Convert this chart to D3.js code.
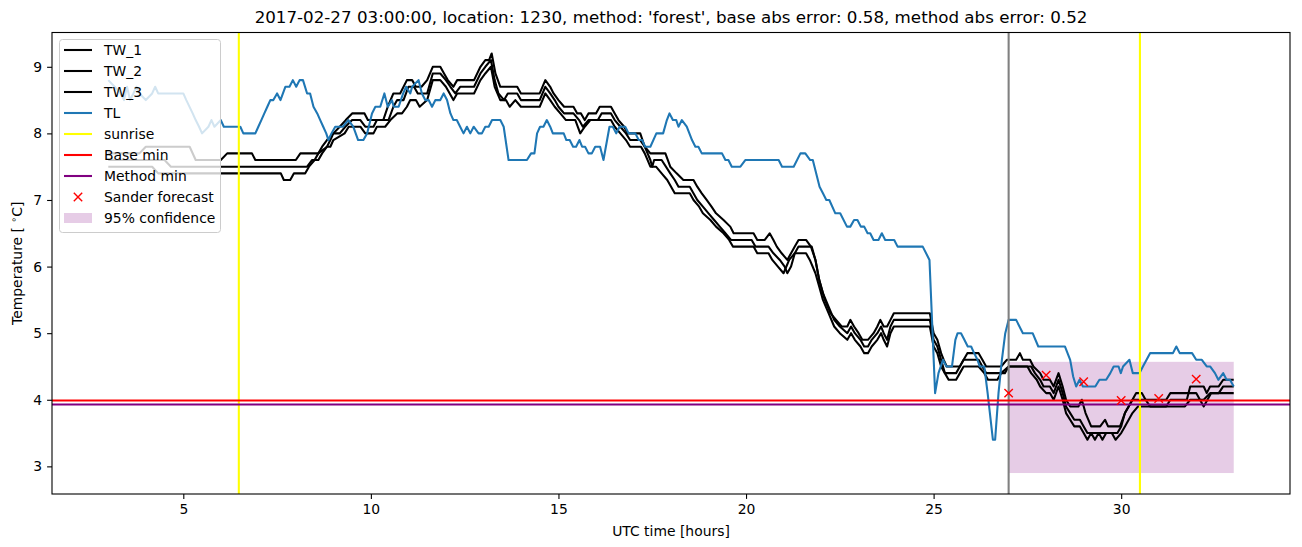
<!DOCTYPE html>
<html><head><meta charset="utf-8">
<script src="https://cdn.jsdelivr.net/npm/d3@7"></script>
<style>body{margin:0;background:#fff}svg{display:block}text{font-family:"DejaVu Sans",sans-serif}</style>
</head><body>
<svg id="c" width="1302" height="547"></svg>
<script>
// ---------- data ----------
const titleText = "2017-02-27 03:00:00, location: 1230, method: 'forest', base abs error: 0.58, method abs error: 0.52";
const xTicks = [5, 10, 15, 20, 25, 30];
const yTicks = [3, 4, 5, 6, 7, 8, 9];
const legendLabels = ["TW_1", "TW_2", "TW_3", "TL", "sunrise", "Base min", "Method min", "Sander forecast", "95% confidence"];

const tw1 = [[3.0,7.7],[3.83,7.7],[4.0,7.8],[5.17,7.8],[5.33,7.6],[6.0,7.6],[6.17,7.7],[6.83,7.7],[6.92,7.6],[8.0,7.6],[8.12,7.7],[8.6,7.7],[8.7,7.8],[8.83,7.9],[9.0,8.0],[9.17,8.1],[9.33,8.2],[9.5,8.3],[9.83,8.3],[9.92,8.2],[10.33,8.2],[10.45,8.4],[10.6,8.6],[10.78,8.6],[10.96,8.8],[11.1,8.8],[11.2,8.7],[11.35,8.7],[11.5,8.8],[11.65,9.0],[11.85,9.0],[11.95,8.9],[12.05,8.8],[12.2,8.7],[12.3,8.8],[12.75,8.8],[12.92,9.0],[13.05,9.1],[13.15,9.1],[13.22,9.2],[13.32,8.9],[13.45,8.7],[13.9,8.7],[14.0,8.6],[14.5,8.6],[14.65,8.8],[14.78,8.7],[14.87,8.6],[15.0,8.5],[15.15,8.4],[15.4,8.4],[15.5,8.3],[15.6,8.3],[15.7,8.2],[15.8,8.3],[16.0,8.3],[16.1,8.4],[16.4,8.4],[16.5,8.3],[16.6,8.2],[16.75,8.1],[16.85,8.0],[17.18,8.0],[17.3,7.8],[17.45,7.7],[17.85,7.7],[17.98,7.5],[18.15,7.4],[18.33,7.3],[18.6,7.3],[18.7,7.2],[18.82,7.1],[18.95,7.0],[19.08,6.9],[19.2,6.8],[19.4,6.7],[19.58,6.6],[19.67,6.5],[20.2,6.5],[20.3,6.4],[20.5,6.4],[20.63,6.5],[20.73,6.4],[20.82,6.3],[20.95,6.2],[21.1,6.1],[21.2,6.2],[21.3,6.3],[21.4,6.4],[21.6,6.4],[21.73,6.3],[21.85,6.1],[21.95,5.8],[22.1,5.5],[22.25,5.3],[22.4,5.2],[22.55,5.1],[22.7,5.1],[22.78,5.2],[22.88,5.1],[23.0,5.0],[23.1,4.9],[23.25,4.9],[23.4,5.0],[23.5,5.1],[23.58,5.2],[23.67,5.1],[23.76,5.1],[23.85,5.2],[23.94,5.3],[24.9,5.3],[25.0,5.0],[25.1,4.9],[25.2,4.7],[25.27,4.6],[25.35,4.5],[25.7,4.5],[25.8,4.6],[25.9,4.7],[26.2,4.7],[26.3,4.6],[26.4,4.5],[26.8,4.5],[26.95,4.6],[27.2,4.6],[27.3,4.7],[27.38,4.6],[27.57,4.6],[27.66,4.5],[27.84,4.4],[27.93,4.3],[28.1,4.3],[28.2,4.2],[28.33,4.4],[28.44,4.2],[28.53,4.0],[28.64,3.9],[28.86,3.9],[28.95,4.0],[29.05,3.8],[29.2,3.6],[29.44,3.6],[29.57,3.7],[29.65,3.6],[29.97,3.6],[30.1,3.8],[30.2,3.9],[30.3,4.0],[30.4,4.1],[30.55,4.1],[30.65,4.0],[30.77,3.9],[31.2,3.9],[31.31,4.0],[31.75,4.0],[31.84,4.2],[32.2,4.2],[32.28,4.1],[32.37,4.2],[32.6,4.2],[32.72,4.3],[33.0,4.3]];

const tw2 = [[3.0,7.6],[4.5,7.6],[4.67,7.5],[8.3,7.5],[8.43,7.6],[8.6,7.6],[8.7,7.7],[8.83,7.8],[8.92,7.9],[9.0,8.0],[9.17,8.0],[9.32,8.1],[9.5,8.2],[9.72,8.2],[9.85,8.1],[10.07,8.1],[10.16,8.2],[10.47,8.2],[10.6,8.4],[10.7,8.5],[10.87,8.5],[11.0,8.7],[11.15,8.7],[11.25,8.6],[11.5,8.6],[11.65,8.9],[11.85,8.9],[12.0,8.8],[12.12,8.7],[12.25,8.6],[12.38,8.7],[12.75,8.7],[12.92,8.9],[13.05,9.0],[13.2,9.1],[13.3,8.8],[13.4,8.6],[13.55,8.5],[13.65,8.6],[13.9,8.6],[14.0,8.5],[14.5,8.5],[14.65,8.7],[14.78,8.6],[14.9,8.5],[15.0,8.4],[15.15,8.3],[15.4,8.3],[15.55,8.2],[15.65,8.1],[15.8,8.2],[16.05,8.2],[16.15,8.3],[16.4,8.3],[16.5,8.2],[16.65,8.1],[16.8,8.0],[16.91,7.9],[17.18,7.9],[17.3,7.8],[17.45,7.6],[17.5,7.5],[17.55,7.6],[17.75,7.6],[17.98,7.4],[18.1,7.3],[18.2,7.2],[18.5,7.2],[18.7,7.0],[18.85,6.9],[19.0,6.8],[19.15,6.7],[19.3,6.6],[19.45,6.5],[19.6,6.4],[20.15,6.4],[20.25,6.3],[20.6,6.3],[20.73,6.2],[20.9,6.1],[21.03,6.0],[21.1,5.9],[21.2,6.0],[21.3,6.2],[21.4,6.3],[21.75,6.3],[21.85,6.1],[21.95,5.8],[22.05,5.6],[22.2,5.4],[22.35,5.2],[22.5,5.1],[22.7,5.0],[22.8,5.1],[22.9,5.0],[23.05,4.9],[23.15,4.8],[23.25,4.8],[23.35,4.9],[23.5,5.0],[23.6,5.1],[23.67,5.0],[23.76,4.9],[23.85,5.1],[23.94,5.2],[24.9,5.2],[25.0,4.9],[25.1,4.8],[25.2,4.6],[25.3,4.4],[25.6,4.4],[25.7,4.5],[25.8,4.6],[26.2,4.6],[26.3,4.5],[26.4,4.4],[26.9,4.4],[27.0,4.5],[27.6,4.5],[27.7,4.4],[27.84,4.3],[27.93,4.2],[28.1,4.2],[28.2,4.1],[28.33,4.3],[28.44,4.1],[28.53,3.9],[28.64,3.8],[28.75,3.7],[28.9,3.7],[29.0,3.6],[29.1,3.5],[29.9,3.5],[30.0,3.6],[30.1,3.8],[30.2,3.9],[30.3,4.0],[30.55,4.0],[31.2,4.0],[31.31,4.1],[32.0,4.1],[32.1,4.0],[32.2,3.9],[32.3,4.0],[32.4,4.1],[32.6,4.1],[32.72,4.2],[33.0,4.2]];

const tw3 = [[3.0,7.5],[4.17,7.5],[4.33,7.4],[7.6,7.4],[7.68,7.3],[7.85,7.3],[7.95,7.4],[8.25,7.4],[8.35,7.5],[8.5,7.6],[8.6,7.7],[8.83,7.8],[8.92,7.8],[9.0,7.9],[9.3,8.0],[9.41,8.1],[9.72,8.1],[9.85,8.0],[10.07,8.0],[10.16,8.1],[10.38,8.1],[10.52,8.2],[10.7,8.3],[10.83,8.3],[10.96,8.4],[11.05,8.5],[11.2,8.5],[11.3,8.4],[11.5,8.5],[11.65,8.8],[11.85,8.8],[12.0,8.7],[12.2,8.5],[12.3,8.6],[12.75,8.6],[12.92,8.8],[13.05,8.9],[13.2,9.0],[13.3,8.7],[13.45,8.5],[13.6,8.5],[13.7,8.4],[13.85,8.5],[14.0,8.4],[14.5,8.4],[14.65,8.6],[14.78,8.5],[14.9,8.4],[15.05,8.3],[15.2,8.2],[15.45,8.2],[15.58,8.0],[15.7,8.1],[15.85,8.2],[16.4,8.2],[16.5,8.1],[16.65,8.0],[16.8,7.9],[16.91,7.8],[17.2,7.8],[17.3,7.7],[17.45,7.5],[17.6,7.5],[17.75,7.4],[17.9,7.3],[18.1,7.1],[18.5,7.1],[18.6,7.0],[18.75,6.9],[18.85,6.8],[19.05,6.7],[19.2,6.6],[19.4,6.5],[19.55,6.4],[19.65,6.3],[20.2,6.3],[20.3,6.2],[20.6,6.2],[20.7,6.1],[20.85,6.0],[21.0,5.9],[21.15,6.1],[21.3,6.2],[21.6,6.2],[21.7,6.1],[21.85,5.9],[21.95,5.7],[22.05,5.5],[22.2,5.3],[22.35,5.1],[22.5,5.0],[22.7,4.9],[22.8,5.0],[22.9,4.9],[23.05,4.8],[23.15,4.7],[23.25,4.7],[23.35,4.8],[23.5,4.9],[23.6,5.0],[23.67,4.9],[23.76,4.8],[23.85,5.0],[23.94,5.1],[24.9,5.1],[25.0,4.8],[25.1,4.7],[25.2,4.5],[25.3,4.4],[25.4,4.3],[25.6,4.3],[25.7,4.4],[25.8,4.5],[26.2,4.5],[26.35,4.4],[26.45,4.3],[26.7,4.3],[26.8,4.4],[27.0,4.5],[27.5,4.5],[27.6,4.4],[27.75,4.3],[27.84,4.2],[28.0,4.1],[28.1,4.1],[28.2,4.0],[28.33,4.2],[28.44,4.0],[28.53,3.8],[28.64,3.7],[28.75,3.6],[28.9,3.6],[29.0,3.5],[29.1,3.4],[29.2,3.5],[29.3,3.4],[29.4,3.5],[29.5,3.4],[29.6,3.5],[29.75,3.5],[29.85,3.4],[30.0,3.5],[30.1,3.6],[30.2,3.7],[30.3,3.8],[30.45,3.9],[31.7,3.9],[31.84,4.0],[32.2,4.0],[32.37,4.1],[33.0,4.1]];

const tl = [[3.0,8.8],[3.17,8.7],[3.33,8.6],[3.42,8.5],[3.5,8.7],[3.58,8.5],[3.67,8.6],[3.75,8.7],[3.83,8.6],[4.0,8.5],[4.17,8.6],[4.25,8.7],[4.33,8.6],[5.0,8.6],[5.08,8.5],[5.25,8.3],[5.33,8.2],[5.42,8.1],[5.5,8.0],[5.67,8.1],[5.75,8.2],[5.83,8.1],[6.0,8.2],[6.08,8.1],[6.52,8.1],[6.6,8.0],[6.92,8.0],[7.0,8.1],[7.08,8.2],[7.16,8.3],[7.24,8.4],[7.32,8.5],[7.4,8.5],[7.5,8.6],[7.59,8.5],[7.72,8.7],[7.83,8.7],[7.92,8.8],[8.01,8.7],[8.1,8.8],[8.19,8.8],[8.3,8.6],[8.38,8.6],[8.47,8.4],[8.57,8.3],[8.65,8.2],[8.73,8.1],[8.81,8.0],[8.87,7.9],[8.95,8.0],[9.05,8.1],[9.25,8.1],[9.4,8.2],[9.53,8.1],[9.66,7.9],[9.8,7.9],[9.9,8.0],[10.03,8.3],[10.12,8.4],[10.25,8.4],[10.36,8.6],[10.45,8.4],[10.56,8.5],[10.61,8.4],[10.74,8.4],[10.86,8.6],[10.94,8.7],[11.05,8.6],[11.1,8.7],[11.27,8.8],[11.36,8.6],[11.45,8.5],[11.54,8.5],[11.63,8.4],[11.72,8.5],[11.85,8.5],[11.94,8.6],[12.03,8.5],[12.12,8.3],[12.2,8.2],[12.29,8.2],[12.38,8.1],[12.47,8.0],[12.56,8.1],[12.65,8.0],[12.74,8.1],[12.87,8.0],[12.96,8.0],[13.05,8.1],[13.14,8.1],[13.23,8.2],[13.45,8.2],[13.54,8.1],[13.67,7.6],[14.16,7.6],[14.27,7.7],[14.36,7.7],[14.43,8.0],[14.51,8.1],[14.6,8.1],[14.69,8.2],[14.78,8.1],[14.85,8.0],[15.14,8.0],[15.21,7.9],[15.3,7.9],[15.39,7.8],[15.47,7.8],[15.56,7.9],[15.63,7.8],[15.71,7.8],[15.8,7.7],[15.89,7.7],[15.98,7.8],[16.11,7.8],[16.2,7.6],[16.36,8.1],[16.45,8.1],[16.54,8.0],[16.63,8.1],[16.78,8.1],[16.87,8.0],[17.05,8.0],[17.14,7.9],[17.23,7.9],[17.31,7.8],[17.45,7.8],[17.61,8.0],[17.79,8.0],[17.89,8.2],[17.96,8.3],[18.05,8.2],[18.14,8.2],[18.2,8.1],[18.29,8.2],[18.42,8.1],[18.56,7.9],[18.65,7.8],[18.73,7.8],[18.82,7.7],[19.36,7.7],[19.45,7.6],[19.53,7.6],[19.62,7.5],[19.85,7.5],[19.98,7.6],[20.87,7.6],[20.96,7.5],[21.27,7.5],[21.45,7.7],[21.58,7.7],[21.71,7.6],[21.78,7.6],[21.96,7.2],[22.05,7.1],[22.14,7.0],[22.22,7.0],[22.38,6.8],[22.51,6.8],[22.69,6.6],[22.78,6.6],[22.88,6.7],[22.97,6.7],[23.06,6.6],[23.15,6.6],[23.24,6.5],[23.31,6.5],[23.4,6.4],[23.53,6.4],[23.62,6.5],[23.71,6.4],[23.95,6.4],[24.04,6.3],[24.71,6.3],[24.89,6.1],[25.04,4.1],[25.13,4.4],[25.25,4.6],[25.34,4.5],[25.49,4.5],[25.58,4.9],[25.64,5.0],[25.73,5.0],[25.82,4.9],[25.91,4.8],[26.0,4.8],[26.08,4.7],[26.17,4.6],[26.23,4.5],[26.35,4.5],[26.44,4.1],[26.58,3.4],[26.64,3.4],[26.73,4.1],[26.82,4.6],[26.91,5.0],[27.0,5.2],[27.2,5.2],[27.38,5.0],[27.64,5.0],[27.79,4.8],[28.5,4.8],[28.64,4.6],[28.72,4.35],[28.8,4.2],[28.89,4.3],[28.98,4.2],[29.31,4.2],[29.42,4.3],[29.6,4.3],[29.71,4.4],[29.8,4.5],[29.93,4.5],[29.99,4.4],[30.05,4.5],[30.22,4.6],[30.31,4.4],[30.49,4.4],[30.58,4.5],[30.77,4.7],[31.38,4.7],[31.47,4.8],[31.56,4.7],[31.89,4.7],[32.0,4.6],[32.15,4.6],[32.28,4.5],[32.37,4.5],[32.5,4.4],[32.59,4.3],[32.72,4.4],[32.81,4.3],[32.9,4.3],[33.0,4.2]];

const sunriseHours = [6.48, 30.5];
const forecastStart = 27.0;
const baseMin = 3.99;
const methodMin = 3.93;
const sanderHours = [27, 28, 29, 30, 31, 32];
const sanderValues = [4.1, 4.37, 4.27, 3.99, 4.02, 4.31];
const confHours = [27, 33];
const confLow = 2.9;
const confHigh = 4.57;

// ---------- layout ----------
const L = 52, R = 1290, T = 32.5, B = 494;
const LW = 2.08;
const svg = d3.select("#c");
const x = d3.scaleLinear().domain([1.5, 34.5]).range([L, R]);
const y = d3.scaleLinear().domain([2.585, 9.515]).range([B, T]);

svg.append("defs").append("clipPath").attr("id", "clip")
  .append("rect").attr("x", L).attr("y", T).attr("width", R - L).attr("height", B - T);
const g = svg.append("g").attr("clip-path", "url(#clip)");

const confFill = "rgba(128,0,128,0.2)";
g.append("rect")
  .attr("x", x(confHours[0])).attr("width", x(confHours[1]) - x(confHours[0]))
  .attr("y", y(confHigh)).attr("height", y(confLow) - y(confHigh))
  .attr("fill", confFill);

const line = d3.line().x(d => x(d[0])).y(d => y(d[1]));
[tw1, tw2, tw3].forEach(s => {
  g.append("path").attr("d", line(s)).attr("fill", "none")
    .attr("stroke", "#000").attr("stroke-width", LW).attr("stroke-linejoin", "round");
});
g.append("path").attr("d", line(tl)).attr("fill", "none")
  .attr("stroke", "#1f77b4").attr("stroke-width", LW).attr("stroke-linejoin", "round");

sunriseHours.forEach(h => {
  g.append("line").attr("x1", x(h)).attr("x2", x(h)).attr("y1", T).attr("y2", B)
    .attr("stroke", "#ffff00").attr("stroke-width", LW);
});
g.append("line").attr("x1", x(forecastStart)).attr("x2", x(forecastStart)).attr("y1", T).attr("y2", B)
  .attr("stroke", "#808080").attr("stroke-width", LW);
g.append("line").attr("x1", L).attr("x2", R).attr("y1", y(baseMin)).attr("y2", y(baseMin))
  .attr("stroke", "#ff0000").attr("stroke-width", LW);
g.append("line").attr("x1", L).attr("x2", R).attr("y1", y(methodMin)).attr("y2", y(methodMin))
  .attr("stroke", "#800080").attr("stroke-width", LW);

const ms = 4.2;
sanderHours.forEach((h, i) => {
  const cx = x(h), cy = y(sanderValues[i]);
  g.append("path").attr("d", `M${cx-ms},${cy-ms}L${cx+ms},${cy+ms}M${cx-ms},${cy+ms}L${cx+ms},${cy-ms}`)
    .attr("stroke", "#ff0000").attr("stroke-width", 1.4).attr("fill", "none");
});

// ---------- axes ----------
const fs = 13.9;
const xAxis = svg.append("g").attr("transform", `translate(0,${B})`)
  .call(d3.axisBottom(x).tickValues(xTicks).tickSize(4.9).tickPadding(4.9).tickFormat(d3.format("d")));
const yAxis = svg.append("g").attr("transform", `translate(${L},0)`)
  .call(d3.axisLeft(y).tickValues(yTicks).tickSize(4.9).tickPadding(4.9).tickFormat(d3.format("d")));
[xAxis, yAxis].forEach(a => {
  a.select(".domain").remove();
  a.selectAll("line").attr("stroke", "#000").attr("stroke-width", 1.1);
  a.selectAll("text").attr("font-size", fs).attr("fill", "#000").attr("font-family", "DejaVu Sans");
});
svg.append("rect").attr("x", L).attr("y", T).attr("width", R - L).attr("height", B - T)
  .attr("fill", "none").attr("stroke", "#000").attr("stroke-width", 1.1);

svg.append("text").attr("x", (L + R) / 2).attr("y", 536).attr("text-anchor", "middle")
  .attr("font-size", fs).text("UTC time [hours]");
const yl = svg.append("text").attr("transform", `translate(22,${(T + B) / 2}) rotate(-90)`)
  .attr("text-anchor", "middle").attr("font-size", fs);
yl.append("tspan").text("Temperature [ ");
yl.append("tspan").attr("font-size", 9.5).attr("dy", -5).text("∘");
yl.append("tspan").attr("dy", 5).text("C]");

svg.append("text").attr("x", (L + R) / 2).attr("y", 23).attr("text-anchor", "middle")
  .attr("font-size", 16.7).text(titleText);

// ---------- legend ----------
const lg = svg.append("g");
lg.append("rect").attr("x", 59.5).attr("y", 39.5).attr("width", 161).attr("height", 193)
  .attr("rx", 3).attr("fill", "rgba(255,255,255,0.8)").attr("stroke", "#cccccc").attr("stroke-width", 1);
const rowY = i => 50 + i * 21;
const styles = [
  {t: "line", c: "#000"}, {t: "line", c: "#000"}, {t: "line", c: "#000"}, {t: "line", c: "#1f77b4"},
  {t: "line", c: "#ffff00"}, {t: "line", c: "#ff0000"}, {t: "line", c: "#800080"},
  {t: "x", c: "#ff0000"}, {t: "patch", c: confFill}
];
legendLabels.forEach((lab, i) => {
  const yy = rowY(i), st = styles[i];
  if (st.t === "line") {
    lg.append("line").attr("x1", 64).attr("x2", 92).attr("y1", yy).attr("y2", yy)
      .attr("stroke", st.c).attr("stroke-width", LW);
  } else if (st.t === "x") {
    const cx = 78;
    lg.append("path").attr("d", `M${cx-ms},${yy-ms}L${cx+ms},${yy+ms}M${cx-ms},${yy+ms}L${cx+ms},${yy-ms}`)
      .attr("stroke", st.c).attr("stroke-width", 1.4);
  } else {
    lg.append("rect").attr("x", 64).attr("y", yy - 5).attr("width", 28).attr("height", 10).attr("fill", st.c);
  }
  lg.append("text").attr("x", 104).attr("y", yy + 5).attr("font-size", fs).text(lab);
});
</script>
</body></html>
